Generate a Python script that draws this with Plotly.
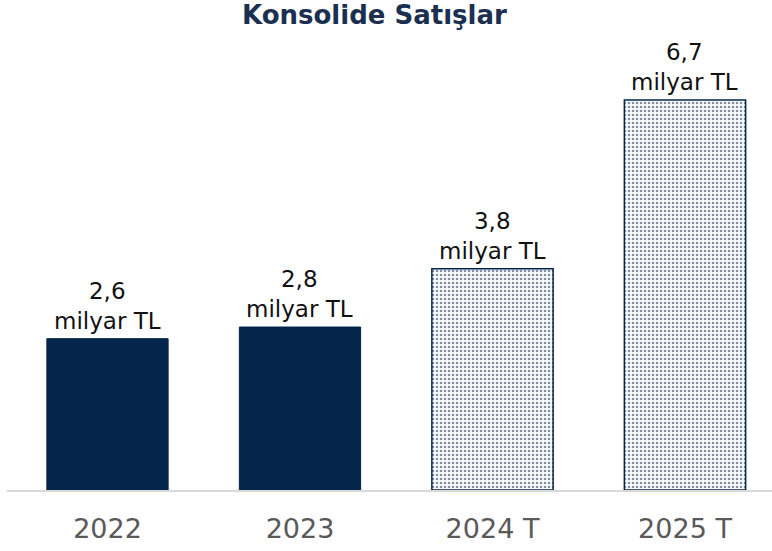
import plotly.graph_objects as go

categories = ["2022", "2023", "2024 T", "2025 T"]
values = [2.6, 2.8, 3.8, 6.7]
value_labels = ["2,6", "2,8", "3,8", "6,7"]
unit_label = "milyar TL"
forecast = [False, False, True, True]
title_text = "Konsolide Satışlar"

navy = "#03264a"

fig = go.Figure()
for i, (cat, val, lab, fc) in enumerate(zip(categories, values, value_labels, forecast)):
    marker = dict(color=navy, line=dict(color=navy, width=1))
    if fc:
        marker = dict(
            color="white",
            line=dict(color=navy, width=1.5),
            pattern=dict(shape=".", fgcolor=navy, bgcolor="white",
                         size=4, solidity=0.35, fillmode="overlay"),
        )
    fig.add_trace(go.Bar(
        x=[cat], y=[val],
        marker=marker,
        showlegend=False,
        width=0.63,
        hoverinfo="x+y",
    ))
    # category index i on the category axis (names like "2022" would be read as numbers)
    fig.add_annotation(
        x=i, y=val, xref="x", yref="y",
        text=f"{lab}<br>{unit_label}",
        showarrow=False, yanchor="bottom", xanchor="center",
        yshift=3,
        font=dict(family="DejaVu Sans", size=23, color="#111111"),
    )

fig.update_layout(
    width=772, height=551,
    margin=dict(l=7, r=0, t=45, b=61),
    paper_bgcolor="white", plot_bgcolor="white",
    title=dict(text=f"<b>{title_text}</b>", x=0.485, xref="container", xanchor="center",
               y=0.973, yref="container", yanchor="middle",
               font=dict(family="DejaVu Sans", size=26, color="#1b3050")),
)
fig.update_xaxes(
    type="category", categoryorder="array", categoryarray=categories,
    range=[-0.522, 3.452],
    showline=True, linecolor="#d9d9d9", linewidth=2,
    ticks="", showgrid=False,
    tickfont=dict(family="DejaVu Sans", size=27, color="#595959"),
    ticklabelstandoff=14,
)
fig.update_yaxes(range=[0, 7.646], visible=False, showgrid=False, zeroline=False)

fig.write_html("out.html", config={"displayModeBar": False},
               post_script="document.body.style.margin='0';document.body.style.padding='0';")
